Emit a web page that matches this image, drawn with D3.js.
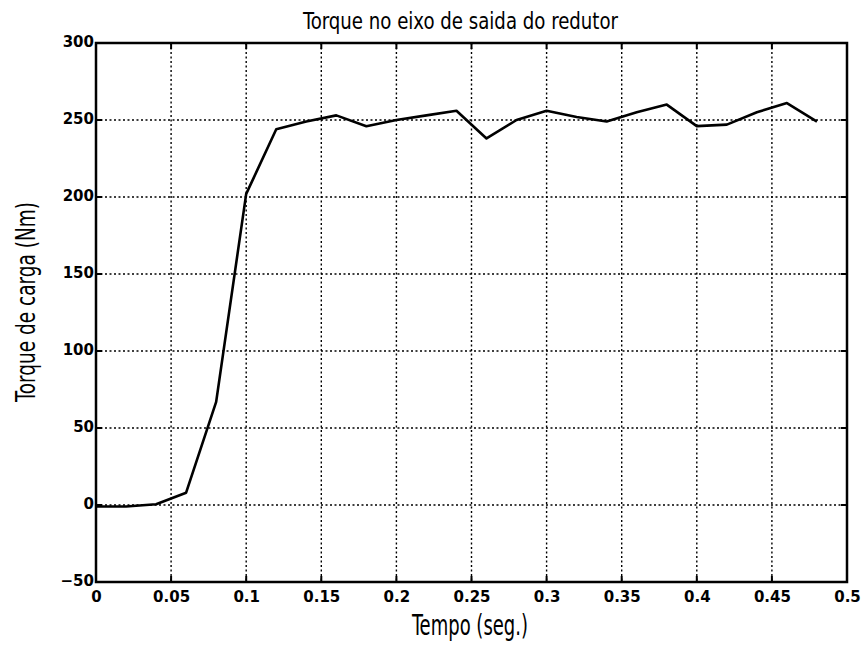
<!DOCTYPE html>
<html><head><meta charset="utf-8">
<script src="https://cdn.jsdelivr.net/npm/d3@7"></script>
<style>
body{margin:0;background:#fff;}
svg{display:block;}
</style></head>
<body>
<svg id="chart" width="863" height="647"></svg>
<script>
const timeValues = [0, 0.02, 0.04, 0.06, 0.08, 0.10, 0.12, 0.14, 0.16, 0.18, 0.20, 0.22, 0.24, 0.26, 0.28, 0.30, 0.32, 0.34, 0.36, 0.38, 0.40, 0.42, 0.44, 0.46, 0.48];
const torqueValues = [-1, -1, 0.5, 8, 67, 202, 244, 249, 253, 246, 250, 253, 256, 238, 250, 256, 252, 249, 255, 260, 246, 247, 255, 261, 249];
const xTicks = [0, 0.05, 0.1, 0.15, 0.2, 0.25, 0.3, 0.35, 0.4, 0.45, 0.5];
const xTickLabels = ["0", "0.05", "0.1", "0.15", "0.2", "0.25", "0.3", "0.35", "0.4", "0.45", "0.5"];
const yTicks = [-50, 0, 50, 100, 150, 200, 250, 300];
const yTickLabels = ["\u221250", "0", "50", "100", "150", "200", "250", "300"];
const titleText = "Torque no eixo de saida do redutor";
const xLabelText = "Tempo (seg.)";
const yLabelText = "Torque de carga (Nm)";

const svg = d3.select("#chart");
const m = {left: 96, right: 16, top: 43, bottom: 65};
const W = 863, H = 647;
const x = d3.scaleLinear().domain([0, 0.5]).range([m.left, W - m.right]);
const y = d3.scaleLinear().domain([-50, 300]).range([H - m.bottom, m.top]);

const tickFont = "'DejaVu Sans', sans-serif";
const labelFont = "'DejaVu Sans Condensed', 'DejaVu Sans', sans-serif";

// grid
const grid = svg.append("g").attr("stroke", "#000").attr("stroke-width", 1.4).attr("stroke-dasharray", "2,2.5");
grid.selectAll("line.gx").data(xTicks.slice(1, -1)).join("line")
  .attr("x1", d => x(d)).attr("x2", d => x(d)).attr("y1", y(300)).attr("y2", y(-50));
grid.selectAll("line.gy").data(yTicks.slice(1, -1)).join("line")
  .attr("y1", d => y(d)).attr("y2", d => y(d)).attr("x1", x(0)).attr("x2", x(0.5));

// axes
const xAxis = d3.axisBottom(x).tickValues(xTicks).tickSize(0).tickPadding(9)
  .tickFormat((d, i) => xTickLabels[i]);
const gx = svg.append("g").attr("transform", `translate(0,${y(-50)})`).call(xAxis);
gx.select(".domain").remove();
gx.selectAll("text").attr("font-family", tickFont).attr("font-weight", "bold").attr("font-size", 15).attr("fill", "#000");

const yAxis = d3.axisLeft(y).tickValues(yTicks).tickSize(0).tickPadding(2)
  .tickFormat((d, i) => yTickLabels[i]);
const gy = svg.append("g").attr("transform", `translate(${x(0)},0)`).call(yAxis);
gy.select(".domain").remove();
gy.selectAll("text").attr("font-family", tickFont).attr("font-weight", "bold").attr("font-size", 15).attr("fill", "#000")
  .attr("dy", "0.25em");

// inward ticks on all sides
const tk = svg.append("g").attr("stroke", "#000").attr("stroke-width", 2);
tk.selectAll("line.tl").data(yTicks).join("line")
  .attr("x1", x(0)).attr("x2", x(0) + 6).attr("y1", d => y(d)).attr("y2", d => y(d));
tk.selectAll("line.tr").data(yTicks).join("line")
  .attr("x1", x(0.5)).attr("x2", x(0.5) - 6).attr("y1", d => y(d)).attr("y2", d => y(d));
tk.selectAll("line.tb").data(xTicks).join("line")
  .attr("x1", d => x(d)).attr("x2", d => x(d)).attr("y1", y(-50)).attr("y2", y(-50) - 6);
tk.selectAll("line.tt").data(xTicks).join("line")
  .attr("x1", d => x(d)).attr("x2", d => x(d)).attr("y1", y(300)).attr("y2", y(300) + 6);

// frame
svg.append("rect").attr("x", x(0)).attr("y", y(300))
  .attr("width", x(0.5) - x(0)).attr("height", y(-50) - y(300))
  .attr("fill", "none").attr("stroke", "#000").attr("stroke-width", 2.5);

// data line
const data = timeValues.map((t, i) => ({t, v: torqueValues[i]}));
svg.append("path").datum(data)
  .attr("fill", "none").attr("stroke", "#000").attr("stroke-width", 2.6).attr("stroke-linejoin", "round")
  .attr("d", d3.line().x(d => x(d.t)).y(d => y(d.v)));

// labels
svg.append("text").attr("x", 460.5).attr("y", 29)
  .attr("text-anchor", "middle").attr("font-family", labelFont).attr("font-size", 23)
  .attr("textLength", 315).attr("lengthAdjust", "spacingAndGlyphs")
  .attr("fill", "#000").text(titleText);
svg.append("text").attr("x", 470).attr("y", 635)
  .attr("text-anchor", "middle").attr("font-family", labelFont).attr("font-size", 29)
  .attr("textLength", 116).attr("lengthAdjust", "spacingAndGlyphs")
  .attr("fill", "#000").text(xLabelText);
svg.append("text").attr("transform", `translate(35,302) rotate(-90)`)
  .attr("text-anchor", "middle").attr("font-family", labelFont).attr("font-size", 27)
  .attr("textLength", 200).attr("lengthAdjust", "spacingAndGlyphs")
  .attr("fill", "#000").text(yLabelText);
</script>
</body></html>
